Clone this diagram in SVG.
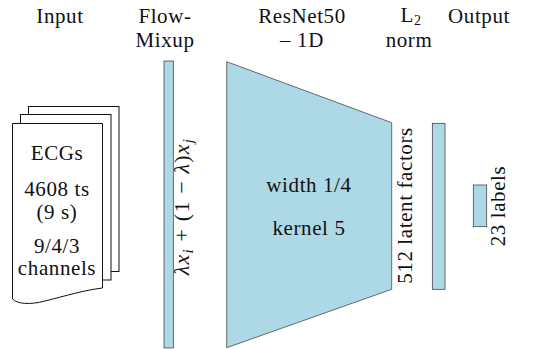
<svg xmlns="http://www.w3.org/2000/svg" width="535" height="349" viewBox="0 0 535 349">
<style>
text{font-family:"Liberation Serif","DejaVu Serif",serif;font-size:21px;fill:#111;letter-spacing:0.6px}
.c{text-anchor:middle}
.doc{fill:#fff;stroke:#111;stroke-width:1}
.blk{fill:#add8e6;stroke:#333;stroke-width:0.7}
.it{font-style:italic}
.f{font-size:22px;letter-spacing:1.2px}
</style>
<g id="headers">
<text class="c" x="60" y="23">Input</text>
<text class="c" x="165" y="23">Flow-</text>
<text class="c" x="165" y="47">Mixup</text>
<text class="c" x="302" y="23">ResNet50</text>
<text class="c" x="302" y="47">– 1D</text>
<text class="c" x="411" y="22">L<tspan font-size="14" dy="3">2</tspan></text>
<text class="c" x="409" y="47">norm</text>
<text class="c" x="479" y="23">Output</text>
</g>
<g id="input">
<rect class="doc" x="28.5" y="106.5" width="90.5" height="165"/>
<rect class="doc" x="20.5" y="114.5" width="90.5" height="165.5"/>
<path class="doc" d="M12.5,123.5 L102.5,123.5 L102.5,288 C85,290 65,296 45,301 C30,305 17,304 12.5,299 Z"/>
<text class="c" x="57" y="160">ECGs</text>
<text class="c" x="57" y="196">4608 ts</text>
<text class="c" x="57" y="219">(9 s)</text>
<text class="c" x="57" y="253">9/4/3</text>
<text class="c" x="57" y="275">channels</text>
</g>
<g id="flowmixup">
<rect class="blk" x="164" y="61" width="9.3" height="287"/>
<text class="c f" transform="translate(189,206.5) rotate(-90)"><tspan class="it">λx</tspan><tspan class="it" font-size="15" dy="4">i</tspan><tspan dy="-4"> + (1 − </tspan><tspan class="it">λ</tspan><tspan>)</tspan><tspan class="it">x</tspan><tspan class="it" font-size="15" dy="4">j</tspan></text>
</g>
<g id="resnet">
<polygon class="blk" points="226.7,61.7 391.7,122.7 391.7,289.3 226.7,347.7"/>
<text class="c" x="309" y="192">width 1/4</text>
<text class="c" x="309" y="235">kernel 5</text>
<text class="c" transform="translate(412,205.5) rotate(-90)">512 latent factors</text>
</g>
<g id="l2norm">
<rect class="blk" x="432.3" y="123.3" width="12.7" height="166"/>
</g>
<g id="output">
<rect class="blk" x="473.3" y="185" width="13.4" height="41.7"/>
<text class="c" transform="translate(505,206) rotate(-90)">23 labels</text>
</g>
<g id="connectors"></g>
</svg>
